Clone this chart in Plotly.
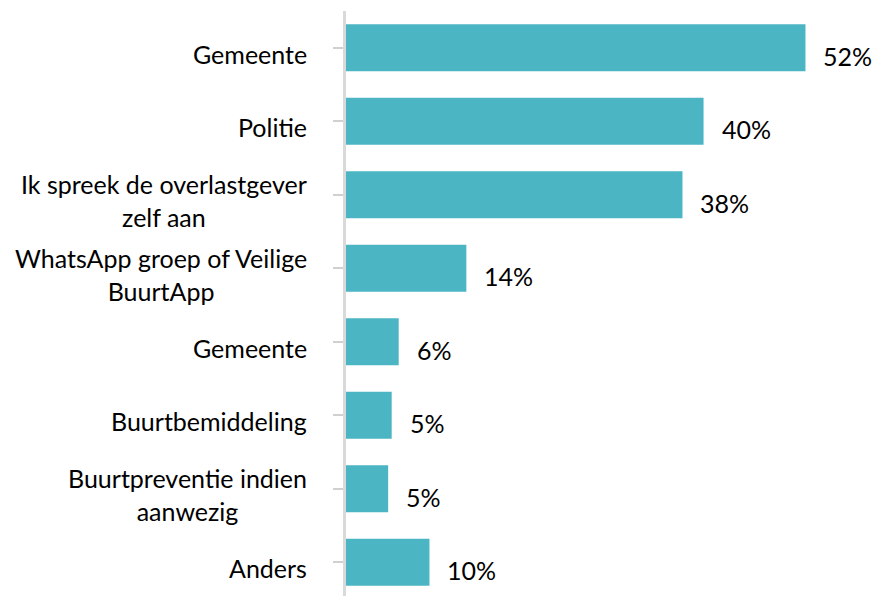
import plotly.graph_objects as go

categories = ["Gemeente", "Politie", "Ik spreek de overlastgever<br>zelf aan",
              "WhatsApp groep of Veilige<br>BuurtApp", "Gemeente", "Buurtbemiddeling",
              "Buurtpreventie indien<br>aanwezig", "Anders"]
values = [52.3, 40.7, 38.3, 13.7, 6.0, 5.2, 4.8, 9.5]
value_labels = ["52%", "40%", "38%", "14%", "6%", "5%", "5%", "10%"]

FONT = "Lato"
FS = 25
idx = list(range(len(categories)))

fig = go.Figure()
fig.add_trace(go.Bar(
    x=values, y=idx, orientation="h",
    marker=dict(color="#4BB5C4", line=dict(width=0)),
    hoverinfo="skip",
))

for i, (v, lab) in enumerate(zip(values, value_labels)):
    fig.add_annotation(x=v, y=i, xref="x", yref="y", text=lab, showarrow=False,
                       xanchor="left", yanchor="middle", xshift=16, yshift=-8,
                       font=dict(family=FONT, size=FS, color="#000000"))

for i, c in enumerate(categories):
    fig.add_annotation(x=0, y=i, xref="paper", yref="y", text=c, showarrow=False,
                       xanchor="right", yanchor="middle", align="center",
                       xshift=-37, yshift=-6,
                       font=dict(family=FONT, size=FS, color="#000000"))

fig.update_layout(
    width=874, height=596,
    margin=dict(l=346, r=0, t=11, b=0),
    paper_bgcolor="white", plot_bgcolor="white",
    bargap=0.36, showlegend=False,
    xaxis=dict(range=[0, 60.1], visible=False, fixedrange=True),
    yaxis=dict(range=[7.46, -0.5], showline=True, linecolor="#D9D9D9", linewidth=3,
               ticks="outside", tickson="boundaries", ticklen=10, tickwidth=2,
               tickcolor="#D0D0D0", showticklabels=False, showgrid=False,
               zeroline=False, fixedrange=True, type="linear",
               tickmode="array", tickvals=idx),
)

fig.write_html("out.html", config={"displayModeBar": False})

with open("out.html", "r", encoding="utf-8") as f:
    html = f.read()
html = html.replace("<body>", '<body style="margin:0;padding:0;overflow:hidden">', 1)
with open("out.html", "w", encoding="utf-8") as f:
    f.write(html)
